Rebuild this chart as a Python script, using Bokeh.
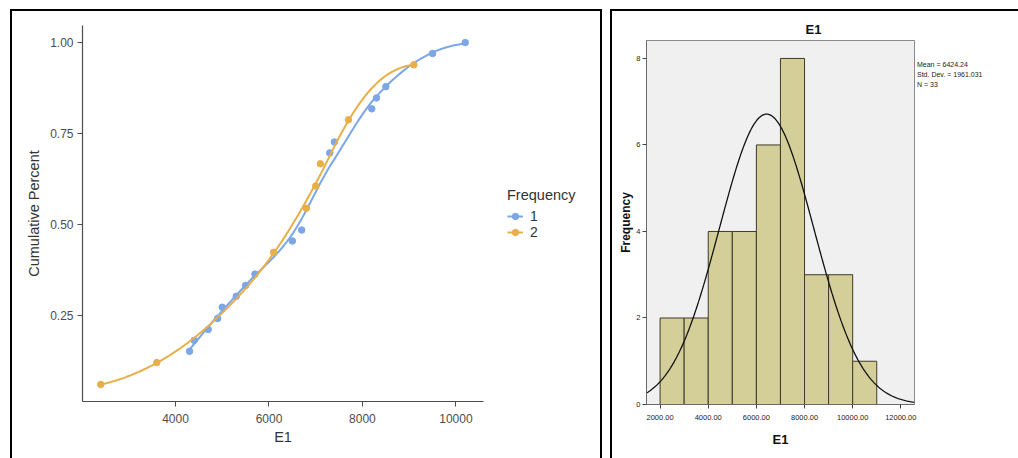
import numpy as np
from bokeh.plotting import figure
from bokeh.models import Legend, LegendItem, FixedTicker, NumeralTickFormatter, Range1d
from bokeh.embed import file_html
from bokeh.resources import INLINE

# ---------------- data ----------------
# Left panel: cumulative percent by E1, grouped by Frequency
e1_freq1 = [4300, 4400, 4700, 4900, 5000, 5300, 5500, 5700, 6500, 6700,
            7300, 7400, 8200, 8300, 8500, 9500, 10200]
cum_freq1 = [0.152, 0.182, 0.212, 0.242, 0.273, 0.303, 0.333, 0.364, 0.455, 0.485,
             0.697, 0.727, 0.818, 0.848, 0.879, 0.970, 1.000]
e1_freq2 = [2400, 3600, 6100, 6800, 7000, 7100, 7700, 9100]
cum_freq2 = [0.061, 0.121, 0.424, 0.545, 0.606, 0.667, 0.788, 0.939]
group_labels = ["1", "2"]
x_ticks_left = [4000, 6000, 8000, 10000]
y_ticks_left = [0.25, 0.50, 0.75, 1.00]

# Right panel: histogram of E1
bin_starts = [2000, 3000, 4000, 5000, 6000, 7000, 8000, 9000, 10000]
bin_counts = [2, 2, 4, 4, 6, 8, 3, 3, 1]
bin_width = 1000
e1_mean = 6424.24
e1_sd = 1961.031
e1_n = 33
stats_lines = ["Mean = 6424.24", "Std. Dev. = 1961.031", "N = 33"]
x_ticks_right = [2000, 4000, 6000, 8000, 10000, 12000]
y_ticks_right = [0, 2, 4, 6, 8]

BLUE = "#7BA6E8"
ORANGE = "#E8AF48"
AXIS_GRAY = "#4d4d4d"
FONT = "Liberation Sans"


def local_fit(x, y, x0, q):
    d = np.abs(x - x0)
    h = np.sort(d)[q - 1]
    u = np.clip(d / h, 0, 1)
    w = (1 - u ** 3) ** 3
    X = np.vstack([np.ones(len(x)), x - x0, (x - x0) ** 2]).T
    sw = np.sqrt(w)
    beta, *_ = np.linalg.lstsq(X * sw[:, None], y * sw, rcond=None)
    return beta[0], beta[1]


def loess(x, y, xs, span=0.75, cell=0.2):
    """loess (degree 2) evaluated R-style: fits at kd-tree vertices + cubic Hermite interpolation."""
    order = np.argsort(x)
    x = np.asarray(x, float)[order]
    y = np.asarray(y, float)[order]
    n = len(x)
    q = int(np.floor(n * span))
    fc = int(np.floor(n * span * cell))
    mu = 0.005 * (x.max() - x.min())
    verts = [x.min() - mu, x.max() + mu]

    def split(pts):
        if len(pts) <= fc or len(pts) < 2:
            return
        m = (len(pts) + 1) // 2
        t = (pts[m - 1] + pts[m]) / 2
        verts.append(t)
        split(pts[:m])
        split(pts[m:])

    split(x)
    verts = np.array(sorted(set(verts)))
    vals = np.array([local_fit(x, y, v, q) for v in verts])
    out = []
    for xx in xs:
        i = min(max(np.searchsorted(verts, xx) - 1, 0), len(verts) - 2)
        x0, x1 = verts[i], verts[i + 1]
        hh = x1 - x0
        t = (xx - x0) / hh
        f0, d0 = vals[i]
        f1, d1 = vals[i + 1]
        h00 = 2 * t ** 3 - 3 * t ** 2 + 1
        h10 = t ** 3 - 2 * t ** 2 + t
        h01 = -2 * t ** 3 + 3 * t ** 2
        h11 = t ** 3 - t ** 2
        out.append(h00 * f0 + h10 * hh * d0 + h01 * f1 + h11 * hh * d1)
    return np.array(out)


BOX = {"border-left": "2px solid black", "border-top": "2px solid black",
       "border-right": "2px solid black", "position": "absolute",
       "box-sizing": "content-box", "overflow": "hidden"}

# ---------------- left figure ----------------
all_x = e1_freq1 + e1_freq2
all_y = cum_freq1 + cum_freq2
xr = max(all_x) - min(all_x)
yr = max(all_y) - min(all_y)

p1 = figure(output_backend="svg", toolbar_location=None,
            frame_width=401, frame_height=376,
            min_border_left=70, min_border_right=117, min_border_top=14, min_border_bottom=57,
            x_range=Range1d(min(all_x) - 0.05 * xr, max(all_x) + 0.05 * xr),
            y_range=Range1d(min(all_y) - 0.05 * yr, max(all_y) + 0.05 * yr),
            background_fill_color="white", border_fill_color="white",
            styles=dict(BOX, left="10px", top="9px", width="588px", height="447px"))
p1.title.visible = False
p1.outline_line_color = None
p1.grid.visible = False

items = []
for xs_, ys_, col, lab in [(e1_freq1, cum_freq1, BLUE, group_labels[0]),
                           (e1_freq2, cum_freq2, ORANGE, group_labels[1])]:
    grid = np.linspace(min(xs_), max(xs_), 150)
    sm = loess(xs_, ys_, grid)
    lr = p1.line(grid, sm, line_color=col, line_width=2)
    sr = p1.scatter(xs_, ys_, size=6.5, fill_color=col, line_color=col)
    items.append(LegendItem(label=lab, renderers=[lr, sr]))

for ax in (p1.xaxis[0], p1.yaxis[0]):
    ax.axis_line_color = AXIS_GRAY
    ax.axis_line_width = 1.2
    ax.major_tick_line_color = AXIS_GRAY
    ax.major_tick_in = 0
    ax.major_tick_out = 5
    ax.minor_tick_line_color = None
    ax.major_label_text_color = AXIS_GRAY
    ax.major_label_text_font = FONT
    ax.major_label_text_font_size = "12px"
    ax.axis_label_text_font = FONT
    ax.axis_label_text_font_size = "14.5px"
    ax.axis_label_text_font_style = "normal"
    ax.axis_label_text_color = "#333333"

p1.xaxis.ticker = FixedTicker(ticks=x_ticks_left)
p1.yaxis.ticker = FixedTicker(ticks=y_ticks_left)
p1.yaxis.formatter = NumeralTickFormatter(format="0.00")
p1.xaxis.formatter = NumeralTickFormatter(format="0")
p1.xaxis.axis_label = "E1"
p1.yaxis.axis_label = "Cumulative Percent"
p1.xaxis.major_label_standoff = 7
p1.yaxis.major_label_standoff = 4
p1.xaxis.axis_label_standoff = 3
p1.yaxis.axis_label_standoff = 5

legend = Legend(items=items, location=(24, 161), title="Frequency",
                title_text_font=FONT, title_text_font_size="14.5px", title_text_color="#333333",
                title_text_font_style="normal", title_standoff=5,
                label_text_font=FONT, label_text_font_size="14px", label_text_color="#333333",
                glyph_width=16, glyph_height=16, label_height=16, spacing=0, label_standoff=7,
                padding=0, margin=0, border_line_color=None, background_fill_alpha=0)
p1.add_layout(legend, "right")

# ---------------- right figure ----------------
xlo, xhi = 1436, 12568
p2 = figure(output_backend="svg", toolbar_location=None, title="E1",
            frame_width=268, frame_height=364,
            min_border_left=34, min_border_right=99, min_border_top=29, min_border_bottom=54,
            x_range=Range1d(xlo, xhi), y_range=Range1d(0, 8.415),
            background_fill_color="#F0F0F0", border_fill_color="white",
            styles=dict(BOX, left="610px", top="9px"))
p2.title.align = "left"
p2.title.offset = 159
p2.title.text_font = FONT
p2.title.text_font_size = "13px"
p2.title.text_font_style = "bold"
p2.title.text_color = "#111111"
p2.title.standoff = 8
p2.outline_line_color = "#8a8a8a"
p2.outline_line_width = 1
p2.grid.visible = False

lefts = np.array(bin_starts, float)
p2.quad(left=lefts, right=lefts + bin_width, bottom=0, top=bin_counts,
        fill_color="#D4CF98", line_color="#3e3a28", line_width=1)

xn = np.linspace(xlo, xhi, 300)
yn = e1_n * bin_width / (e1_sd * np.sqrt(2 * np.pi)) * np.exp(-0.5 * ((xn - e1_mean) / e1_sd) ** 2)
p2.line(xn, yn, line_color="#111111", line_width=1.3)

for ax in (p2.xaxis[0], p2.yaxis[0]):
    ax.axis_line_color = "#6a6a6a"
    ax.major_tick_line_color = "#444444"
    ax.major_tick_in = 0
    ax.major_tick_out = 4
    ax.minor_tick_line_color = None
    ax.major_label_text_color = "#222222"
    ax.major_label_text_font = FONT
    ax.major_label_text_font_size = "7.5px"
    ax.axis_label_text_font = FONT
    ax.axis_label_text_font_style = "bold"
    ax.axis_label_text_color = "#111111"

p2.xaxis.ticker = FixedTicker(ticks=x_ticks_right)
p2.yaxis.ticker = FixedTicker(ticks=y_ticks_right)
p2.xaxis.formatter = NumeralTickFormatter(format="0.00")
p2.yaxis.formatter = NumeralTickFormatter(format="0")
p2.xaxis.axis_label = "E1"
p2.yaxis.axis_label = "Frequency"
p2.xaxis.axis_label_text_font_size = "13px"
p2.yaxis.axis_label_text_font_size = "12px"
p2.xaxis.major_label_standoff = 6
p2.yaxis.major_label_standoff = 2
p2.xaxis.axis_label_standoff = 9
p2.yaxis.axis_label_standoff = 0

# stats box: legend entries whose glyphs are invisible
ghost = p2.scatter([], [], size=0, fill_alpha=0, line_alpha=0)
stats_legend = Legend(items=[LegendItem(label=s, renderers=[ghost]) for s in stats_lines],
                      location=(3, 315), glyph_width=0, glyph_height=10, label_height=10,
                      label_standoff=0, spacing=0, padding=0, margin=0,
                      label_text_font=FONT, label_text_font_size="7px", label_text_color="#222222",
                      border_line_color=None, background_fill_alpha=0)
p2.add_layout(stats_legend, "right")

open("out.html", "w").write(file_html([p1, p2], INLINE))
